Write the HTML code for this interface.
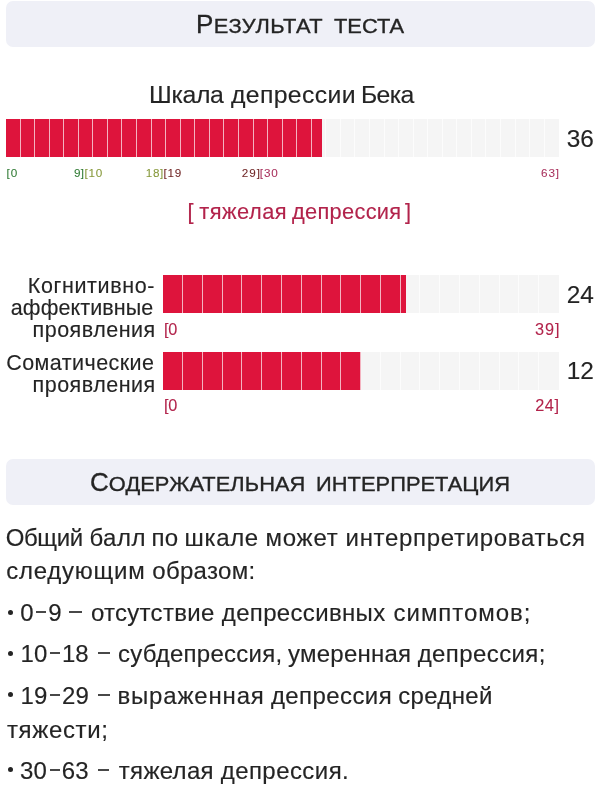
<!DOCTYPE html>
<html><head><meta charset="utf-8">
<style>
html,body{margin:0;padding:0;background:#fff;}
body{width:600px;height:794px;position:relative;overflow:hidden;font-family:"Liberation Sans",sans-serif;}
.t{position:absolute;white-space:nowrap;line-height:40px;height:40px;transform-origin:0 0;-webkit-text-stroke:0.006em;}
.t b{font-weight:normal;font-size:1em;}
.t i{font-style:normal;font-size:0.84em;-webkit-text-stroke:0.35px;}
.t b{-webkit-text-stroke:0.3px;}
.w{position:absolute;left:0;top:0;width:600px;height:794px;will-change:transform;}
.hdr{position:absolute;background:#eff0f7;border-radius:7px;}
.bar{position:absolute;background-color:#f5f5f5;overflow:hidden;}
.bar .fill{position:absolute;left:0;top:0;bottom:0;background-color:#de143c;}
.bar i{position:absolute;top:0;bottom:0;width:1px;background:rgba(255,255,255,0.68);}
</style></head><body>
<div class="w">
<div class="hdr" style="left:6px;top:1px;width:589px;height:46px;"></div>
<div class="hdr" style="left:6px;top:459.4px;width:589px;height:45.6px;"></div>
<div class="bar" style="left:6px;top:119.3px;width:552.6px;height:37.7px;"><div class="fill" style="width:315.7px;"></div><i style="left:14px"></i><i style="left:28px"></i><i style="left:43px"></i><i style="left:57px"></i><i style="left:72px"></i><i style="left:86px"></i><i style="left:101px"></i><i style="left:115px"></i><i style="left:130px"></i><i style="left:145px"></i><i style="left:159px"></i><i style="left:174px"></i><i style="left:188px"></i><i style="left:203px"></i><i style="left:217px"></i><i style="left:232px"></i><i style="left:247px"></i><i style="left:261px"></i><i style="left:276px"></i><i style="left:290px"></i><i style="left:305px"></i><i style="left:319px"></i><i style="left:334px"></i><i style="left:348px"></i><i style="left:363px"></i><i style="left:378px"></i><i style="left:392px"></i><i style="left:407px"></i><i style="left:421px"></i><i style="left:436px"></i><i style="left:450px"></i><i style="left:465px"></i><i style="left:479px"></i><i style="left:494px"></i><i style="left:509px"></i><i style="left:523px"></i><i style="left:538px"></i></div>
<div class="bar" style="left:163px;top:275.1px;width:395.7px;height:37.9px;"><div class="fill" style="width:243.0px;"></div><i style="left:19px"></i><i style="left:39px"></i><i style="left:59px"></i><i style="left:78px"></i><i style="left:98px"></i><i style="left:118px"></i><i style="left:138px"></i><i style="left:158px"></i><i style="left:177px"></i><i style="left:197px"></i><i style="left:217px"></i><i style="left:237px"></i><i style="left:256px"></i><i style="left:276px"></i><i style="left:296px"></i><i style="left:316px"></i><i style="left:336px"></i><i style="left:355px"></i><i style="left:375px"></i></div>
<div class="bar" style="left:163px;top:352px;width:395.7px;height:37.8px;"><div class="fill" style="width:198.2px;"></div><i style="left:19px"></i><i style="left:39px"></i><i style="left:59px"></i><i style="left:78px"></i><i style="left:98px"></i><i style="left:118px"></i><i style="left:138px"></i><i style="left:158px"></i><i style="left:177px"></i><i style="left:197px"></i><i style="left:217px"></i><i style="left:237px"></i><i style="left:256px"></i><i style="left:276px"></i><i style="left:296px"></i><i style="left:316px"></i><i style="left:336px"></i><i style="left:355px"></i><i style="left:375px"></i></div>
<div style="position:absolute;left:7.8px;top:609.5px;width:5px;height:5px;border-radius:50%;background:#242424"></div>
<div style="position:absolute;left:36px;top:611px;width:9.6px;height:2px;background:#484848"></div>
<div style="position:absolute;left:69.2px;top:611px;width:12.4px;height:2px;background:#484848"></div>
<div style="position:absolute;left:7.8px;top:650.5px;width:5px;height:5px;border-radius:50%;background:#242424"></div>
<div style="position:absolute;left:50px;top:652px;width:9.6px;height:2px;background:#484848"></div>
<div style="position:absolute;left:98px;top:652px;width:11.6px;height:2px;background:#484848"></div>
<div style="position:absolute;left:7.8px;top:692.4px;width:5px;height:5px;border-radius:50%;background:#242424"></div>
<div style="position:absolute;left:50px;top:694px;width:9.6px;height:2px;background:#484848"></div>
<div style="position:absolute;left:98px;top:694px;width:11.6px;height:2px;background:#484848"></div>
<div style="position:absolute;left:7.8px;top:767.2px;width:5px;height:5px;border-radius:50%;background:#242424"></div>
<div style="position:absolute;left:50px;top:769px;width:9.6px;height:2px;background:#484848"></div>
<div style="position:absolute;left:97.8px;top:769px;width:11.4px;height:2px;background:#484848"></div>
<div class="t" style="left:196.2px;top:4.4px;font-size:25px;color:#242424;letter-spacing:0.46px;transform:scaleX(1.04);"><b>Р</b><i>ЕЗУЛЬТАТ</i></div>
<div class="t" style="left:334.0px;top:4.4px;font-size:25px;color:#242424;transform:scaleX(1.04);"><i>ТЕСТА</i></div>
<div class="t" style="left:149.1px;top:74.9px;font-size:24.8px;color:#242424;letter-spacing:-0.35px;">Шкала</div>
<div class="t" style="left:231.0px;top:74.9px;font-size:24.8px;color:#242424;letter-spacing:0.34px;">депрессии</div>
<div class="t" style="left:361.0px;top:74.9px;font-size:24.8px;color:#242424;letter-spacing:-0.67px;">Бека</div>
<div class="t" style="left:566.8px;top:118.8px;font-size:24.4px;color:#242424;">36</div>
<div class="t" style="left:566.7px;top:274.9px;font-size:24.4px;color:#242424;">24</div>
<div class="t" style="left:566.7px;top:350.8px;font-size:24.4px;color:#242424;">12</div>
<div class="t" style="left:6.5px;top:153.2px;font-size:11.7px;color:#2f7a33;letter-spacing:1.0px;">[0</div>
<div class="t" style="left:73.9px;top:153.2px;font-size:11.7px;color:#2f7a33;letter-spacing:0.4px;">9]</div>
<div class="t" style="left:84.5px;top:153.2px;font-size:11.7px;color:#86983a;letter-spacing:0.7px;">[10</div>
<div class="t" style="left:145.8px;top:153.2px;font-size:11.7px;color:#86983a;letter-spacing:0.6px;">18]</div>
<div class="t" style="left:163.6px;top:153.2px;font-size:11.7px;color:#702626;letter-spacing:0.7px;">[19</div>
<div class="t" style="left:241.8px;top:153.2px;font-size:11.7px;color:#702626;letter-spacing:1.0px;">29]</div>
<div class="t" style="left:259.8px;top:153.2px;font-size:11.7px;color:#a8305c;letter-spacing:0.9px;">[30</div>
<div class="t" style="left:541.1px;top:153.2px;font-size:11.7px;color:#a8305c;letter-spacing:0.8px;">63]</div>
<div class="t" style="left:187.5px;top:192.2px;font-size:21.8px;color:#b2234b;">[</div>
<div class="t" style="left:199.3px;top:192.2px;font-size:21.8px;color:#b2234b;letter-spacing:0.47px;">тяжелая</div>
<div class="t" style="left:292.0px;top:192.2px;font-size:21.8px;color:#b2234b;letter-spacing:0.31px;">депрессия</div>
<div class="t" style="left:405.1px;top:192.2px;font-size:21.8px;color:#b2234b;">]</div>
<div class="t" style="left:27.8px;top:266px;font-size:21.5px;color:#242424;letter-spacing:0.62px;">Когнитивно-</div>
<div class="t" style="left:10.8px;top:288.2px;font-size:21.5px;color:#242424;letter-spacing:0.1px;">аффективные</div>
<div class="t" style="left:32.6px;top:309.8px;font-size:21.5px;color:#242424;letter-spacing:0.49px;">проявления</div>
<div class="t" style="left:6.2px;top:343px;font-size:21.5px;color:#242424;letter-spacing:0.45px;">Соматические</div>
<div class="t" style="left:32.6px;top:365px;font-size:21.5px;color:#242424;letter-spacing:0.49px;">проявления</div>
<div class="t" style="left:164.0px;top:308.5px;font-size:16.3px;color:#b2234b;letter-spacing:-0.2px;">[0</div>
<div class="t" style="left:535.0px;top:308.5px;font-size:16.3px;color:#b2234b;letter-spacing:1.0px;">39]</div>
<div class="t" style="left:164.0px;top:384.6px;font-size:16.3px;color:#b2234b;letter-spacing:-0.2px;">[0</div>
<div class="t" style="left:535.2px;top:384.6px;font-size:16.3px;color:#b2234b;letter-spacing:0.6px;">24]</div>
<div class="t" style="left:89.6px;top:461.5px;font-size:25px;color:#242424;letter-spacing:0.05px;transform:scaleX(1.04);"><b>С</b><i>ОДЕРЖАТЕЛЬНАЯ</i></div>
<div class="t" style="left:315.9px;top:461.5px;font-size:25px;color:#242424;letter-spacing:0.04px;transform:scaleX(1.04);"><i>ИНТЕРПРЕТАЦИЯ</i></div>
<div class="t" style="left:5.7px;top:517.5px;font-size:24px;color:#242424;letter-spacing:-0.39px;">Общий</div>
<div class="t" style="left:89.4px;top:517.5px;font-size:24px;color:#242424;letter-spacing:0.53px;">балл</div>
<div class="t" style="left:151.5px;top:517.5px;font-size:24px;color:#242424;letter-spacing:0.2px;">по</div>
<div class="t" style="left:184.6px;top:517.5px;font-size:24px;color:#242424;letter-spacing:0.65px;">шкале</div>
<div class="t" style="left:265.5px;top:517.5px;font-size:24px;color:#242424;letter-spacing:0.75px;">может</div>
<div class="t" style="left:345.6px;top:517.5px;font-size:24px;color:#242424;letter-spacing:0.68px;">интерпретироваться</div>
<div class="t" style="left:6.2px;top:551.4px;font-size:24px;color:#242424;letter-spacing:0.75px;">следующим</div>
<div class="t" style="left:152.3px;top:551.4px;font-size:24px;color:#242424;letter-spacing:0.29px;">образом:</div>
<div class="t" style="left:20.2px;top:593.3px;font-size:24px;color:#242424;">0</div>
<div class="t" style="left:48.2px;top:593.3px;font-size:24px;color:#242424;">9</div>
<div class="t" style="left:90.9px;top:593.3px;font-size:24px;color:#242424;letter-spacing:0.29px;">отсутствие</div>
<div class="t" style="left:221.8px;top:593.3px;font-size:24px;color:#242424;letter-spacing:0.33px;">депрессивных</div>
<div class="t" style="left:393.6px;top:593.3px;font-size:24px;color:#242424;letter-spacing:0.95px;">симптомов;</div>
<div class="t" style="left:20.6px;top:634.3px;font-size:24px;color:#242424;">10</div>
<div class="t" style="left:62.0px;top:634.3px;font-size:24px;color:#242424;">18</div>
<div class="t" style="left:118.0px;top:634.3px;font-size:24px;color:#242424;letter-spacing:0.25px;">субдепрессия,</div>
<div class="t" style="left:288.0px;top:634.3px;font-size:24px;color:#242424;letter-spacing:0.24px;">умеренная</div>
<div class="t" style="left:417.7px;top:634.3px;font-size:24px;color:#242424;letter-spacing:0.4px;">депрессия;</div>
<div class="t" style="left:20.6px;top:676.2px;font-size:24px;color:#242424;">19</div>
<div class="t" style="left:62.1px;top:676.2px;font-size:24px;color:#242424;">29</div>
<div class="t" style="left:117.4px;top:676.2px;font-size:24px;color:#242424;letter-spacing:0.83px;">выраженная</div>
<div class="t" style="left:270.9px;top:676.2px;font-size:24px;color:#242424;letter-spacing:0.42px;">депрессия</div>
<div class="t" style="left:398.2px;top:676.2px;font-size:24px;color:#242424;letter-spacing:0.33px;">средней</div>
<div class="t" style="left:6.9px;top:710px;font-size:24px;color:#242424;letter-spacing:0.66px;">тяжести;</div>
<div class="t" style="left:20.1px;top:751px;font-size:24px;color:#242424;">30</div>
<div class="t" style="left:61.8px;top:751px;font-size:24px;color:#242424;">63</div>
<div class="t" style="left:118.8px;top:751px;font-size:24px;color:#242424;letter-spacing:0.3px;">тяжелая</div>
<div class="t" style="left:220.7px;top:751px;font-size:24px;color:#242424;letter-spacing:0.44px;">депрессия.</div>
</div>
</body></html>
